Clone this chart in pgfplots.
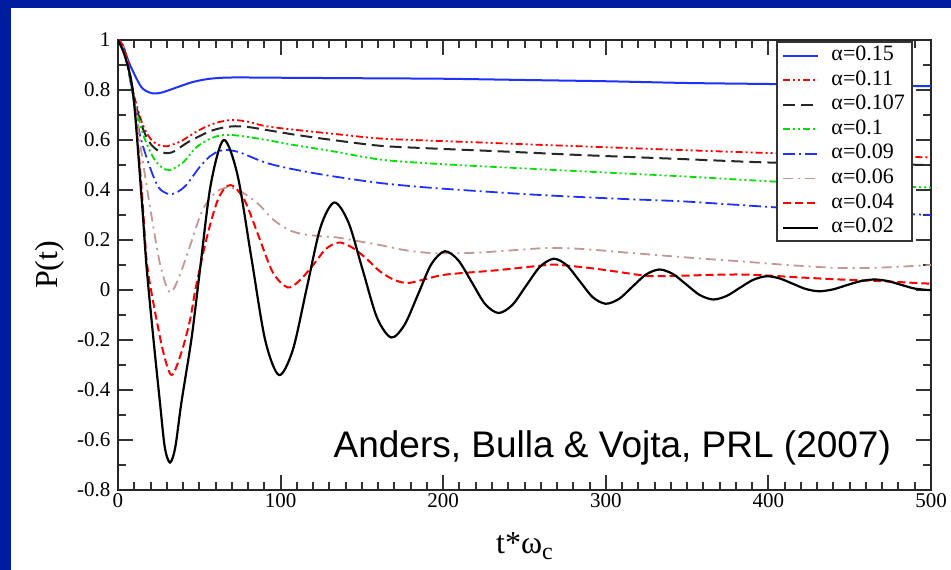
\documentclass[border=0pt]{standalone}
\usepackage{pgfplots}
\pgfplotsset{compat=1.18}
\usepackage{fontspec}
\setmainfont{Liberation Serif}
\newfontfamily\annfont{Liberation Sans}
\definecolor{bgblue}{RGB}{0,28,160}
\definecolor{rosy}{RGB}{196,150,150}
\definecolor{mygreen}{RGB}{0,225,0}
\definecolor{myblue}{RGB}{30,50,255}
\begin{document}
\begin{tikzpicture}
\useasboundingbox (0pt,0pt) rectangle (951pt,570pt);
\fill[bgblue] (0pt,0pt) rectangle (951pt,570pt);
\fill[white] (11pt,0pt) rectangle (951pt,562pt);
\begin{axis}[
  at={(118pt,80pt)}, anchor=south west,
  scale only axis, width=813pt, height=450pt,
  xmin=0, xmax=500, ymin=-0.8, ymax=1,
  xtick={0,100,200,300,400,500},
  minor x tick num=9,
  ytick={-0.8,-0.6,-0.4,-0.2,0,0.2,0.4,0.6,0.8,1},
  yticklabels={-0.8,-0.6,-0.4,-0.2,0,0.2,0.4,0.6,0.8,1},
  xticklabels={0,100,200,300,400,500},
  minor y tick num=1,
  tick align=inside,
  major tick length=15pt, minor tick length=8pt,
  every tick/.style={line width=2pt, black!80},
  axis line style={line width=2pt, black!85},
  tick label style={font=\fontsize{21}{24}\selectfont},
  yticklabel style={xshift=-4pt},
  xlabel={t*ω\raisebox{-0.45ex}{\fontsize{24}{26}\selectfont c}},
  ylabel={P(t)},
  xlabel style={font=\fontsize{32}{36}\selectfont, at={(axis description cs:0.5,-0.125)}, anchor=center},
  ylabel style={font=\fontsize{32}{36}\selectfont, at={(axis description cs:-0.084,0.5)}, anchor=center},
  legend cell align=left,
  legend style={at={(rel axis cs:0.978,0.997)}, anchor=north east,
    draw=black!80, line width=1.8pt, fill=white,
    font=\fontsize{22}{24}\selectfont,
    inner xsep=5pt, inner ysep=1pt, row sep=0pt,
    nodes={text height=15pt, text depth=5pt, inner sep=2.3pt},
    /tikz/every odd column/.append style={column sep=10pt}},
  legend image code/.code={\draw[#1] (0pt,0pt) -- (35pt,0pt);},
]
% alpha = 0.15
\addplot[myblue, line width=2pt, smooth] coordinates {
(0,1) (3,0.975) (7.4,0.9) (13.5,0.82) (17,0.797) (21.7,0.786) (27,0.79) (36,0.81) (46,0.832) (56.6,0.845) (70,0.85) (100,0.849) (150,0.847) (200,0.845) (250,0.84) (300,0.835) (350,0.828) (400,0.824) (450,0.82) (500,0.815)
};
\addlegendentry{α=0.15}
% alpha = 0.11
\addplot[red, line width=1.8pt, smooth, dash pattern=on 7pt off 3pt on 2pt off 3pt on 2pt off 3pt] coordinates {
(0,1) (4,0.96) (9.4,0.79) (15,0.665) (20,0.605) (25,0.58) (30,0.575) (35,0.585) (40,0.60) (50,0.64) (60,0.668) (70,0.68) (80,0.673) (91,0.655) (110,0.64) (132,0.625) (161,0.606) (190,0.598) (223,0.59) (254,0.582) (284,0.575) (346,0.56) (400,0.548) (450,0.54) (500,0.53)
};
\addlegendentry{α=0.11}
% alpha = 0.107
\addplot[black!85, line width=2pt, smooth, dash pattern=on 12pt off 6pt] coordinates {
(0,1) (4,0.96) (9.4,0.78) (15,0.65) (20,0.585) (25,0.556) (29,0.548) (33,0.55) (37,0.565) (44,0.595) (56.6,0.635) (65,0.65) (72,0.655) (80,0.652) (91.4,0.64) (110,0.62) (132,0.60) (161,0.577) (190,0.567) (223,0.558) (254,0.549) (284,0.54) (346,0.524) (400,0.51) (450,0.505) (500,0.50)
};
\addlegendentry{α=0.107}
% alpha = 0.1
\addplot[mygreen, line width=1.8pt, smooth, dash pattern=on 7pt off 3pt on 2pt off 3pt on 2pt off 3pt] coordinates {
(0,1) (4,0.96) (9.4,0.77) (15.6,0.62) (21.7,0.53) (27,0.49) (32,0.48) (40,0.51) (48,0.57) (56.6,0.605) (63,0.618) (70,0.62) (80,0.612) (91.4,0.60) (110,0.578) (132,0.555) (161,0.522) (190,0.507) (223,0.495) (254,0.485) (284,0.475) (346,0.455) (400,0.435) (450,0.42) (500,0.41)
};
\addlegendentry{α=0.1}
% alpha = 0.09
\addplot[myblue, line width=1.8pt, smooth, dash pattern=on 12pt off 4pt on 2pt off 4pt] coordinates {
(0,1) (4,0.96) (9.4,0.78) (13.5,0.62) (19.7,0.49) (25,0.41) (31,0.384) (36,0.39) (42,0.42) (50,0.49) (56.6,0.535) (62,0.555) (67,0.56) (75,0.55) (91.4,0.508) (110,0.48) (132,0.455) (161,0.428) (190,0.41) (223,0.395) (254,0.382) (284,0.372) (315,0.363) (346,0.355) (375,0.343) (401,0.332) (430,0.32) (460,0.31) (500,0.30)
};
\addlegendentry{α=0.09}
% alpha = 0.06
\addplot[rosy, line width=1.8pt, smooth, dash pattern=on 10pt off 5pt on 2pt off 5pt] coordinates {
(0,1) (4,0.96) (9.4,0.79) (14,0.57) (20,0.32) (26,0.1) (32,-0.01) (38,0.06) (45,0.19) (52,0.32) (60,0.39) (67,0.41) (72,0.405) (79,0.38) (87,0.34) (94,0.29) (100,0.26) (107,0.235) (115,0.222) (125,0.215) (135,0.21) (148,0.195) (161,0.18) (176,0.16) (192,0.148) (208,0.147) (223,0.15) (245,0.16) (264,0.168) (280,0.166) (294,0.16) (312,0.15) (331,0.14) (356,0.127) (382,0.115) (412,0.1) (444,0.088) (470,0.09) (500,0.1)
};
\addlegendentry{α=0.06}
% alpha = 0.04
\addplot[red, line width=2pt, smooth, dash pattern=on 8pt off 4pt] coordinates {
(0,1) (4,0.96) (9.4,0.78) (14.6,0.40) (17.6,0.12) (21.7,-0.05) (27.9,-0.25) (33,-0.34) (39,-0.25) (44.3,-0.12) (48,0.015) (55,0.22) (62,0.37) (69.3,0.42) (77.75,0.36) (86.5,0.215) (95.25,0.07) (104.4,0.01) (112,0.04) (120,0.10) (128,0.165) (136,0.19) (144,0.17) (152,0.13) (161,0.075) (170,0.04) (178.5,0.028) (190,0.045) (202,0.062) (233,0.079) (264,0.10) (272,0.10) (290,0.088) (305,0.075) (321,0.06) (333,0.055) (382.5,0.062) (420,0.05) (444,0.042) (470,0.035) (500,0.025)
};
\addlegendentry{α=0.04}
% alpha = 0.02
\addplot[black, line width=2.2pt, smooth] coordinates {
(0,1) (4.5,0.93) (9.4,0.78) (14.6,0.36) (17.6,0.09) (21.7,-0.19) (25.8,-0.45) (28.8,-0.63) (32,-0.69) (35.2,-0.63) (39,-0.45) (45.3,-0.19) (50.4,0.08) (57,0.42) (65,0.60) (73.5,0.46) (82,0.13) (90.5,-0.20) (99,-0.34) (107.5,-0.24) (116,0.005) (124.5,0.25) (133,0.35) (141.75,0.27) (150.5,0.08) (159.25,-0.11) (168,-0.19) (176.25,-0.139) (184.5,-0.018) (192.75,0.104) (201,0.155) (209.25,0.119) (217.5,0.032) (225.75,-0.056) (234,-0.092) (242.5,-0.06) (251,0.017) (259.5,0.093) (268,0.125) (276,0.099) (284,0.035) (292,-0.029) (300,-0.055) (308.25,-0.035) (316.5,0.014) (324.75,0.062) (333,0.082) (341.25,0.064) (349.5,0.022) (357.75,-0.02) (366,-0.038) (374.25,-0.024) (382.5,0.009) (390.75,0.041) (399,0.055) (407,0.046) (415,0.025) (423,0.004) (431,-0.005) (439.5,0.002) (448,0.019) (456.5,0.035) (465,0.042) (473.25,0.036) (481.5,0.021) (489.75,0.006) (498,0.0) (500,0.0)
};
\addlegendentry{α=0.02}
\node[anchor=base, font=\annfont\fontsize{37}{40}\selectfont, inner sep=0pt] at (axis cs:304,-0.672) {Anders, Bulla \& Vojta, PRL (2007)};
\end{axis}
\end{tikzpicture}
\end{document}
